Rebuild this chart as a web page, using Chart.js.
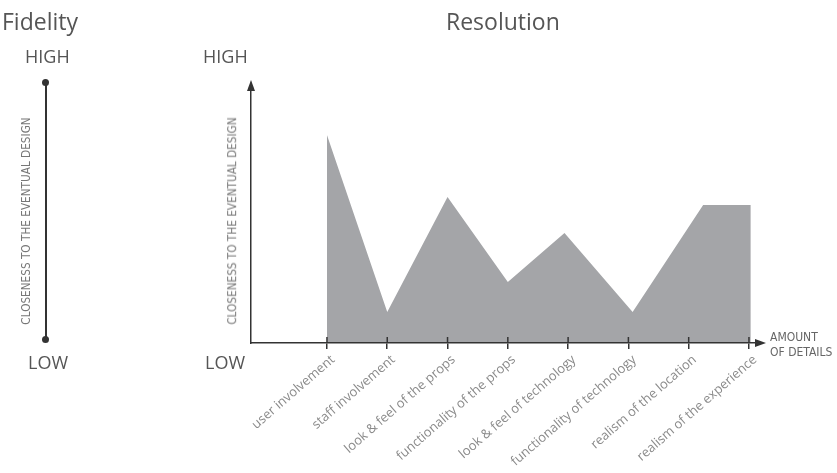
<!DOCTYPE html>
<html>
<head>
<meta charset="utf-8">
<script src="https://cdn.jsdelivr.net/npm/chart.js@4"></script>
<style>
  html, body { margin: 0; padding: 0; background: #fff; }
  #wrap { position: relative; width: 837px; height: 473px; overflow: hidden; }
  #grafico { position: absolute; left: 0; top: 0; }
  .txt { position: absolute; white-space: nowrap; line-height: 1; }
  .titulo { font-family: "Open Sans", sans-serif; font-size: 23px; color: #555; }
  .nivel { font-family: "Open Sans", sans-serif; font-size: 18px; color: #555; }
  .vert { font-family: "DejaVu Sans Condensed", "DejaVu Sans", sans-serif; font-size: 11.7px; color: #777;
          transform: translate(-50%, -50%) rotate(-90deg); }
  .detalhe { font-family: "DejaVu Sans Condensed", "DejaVu Sans", sans-serif; font-size: 12px; color: #666; line-height: 15px; }
  #fidAxis { position: absolute; left: 45px; top: 82px; width: 1.5px; height: 257px; background: #333; }
  .dot { position: absolute; width: 7px; height: 7px; border-radius: 50%; background: #333; }
</style>
</head>
<body>
<div id="wrap">
  <canvas id="grafico" width="837" height="473"></canvas>

  <div class="txt titulo" style="left:2px; top:10px;">Fidelity</div>
  <div class="txt titulo" style="left:446px; top:10px;">Resolution</div>

  <div class="txt nivel" style="left:25px; top:47px;">HIGH</div>
  <div class="txt nivel" style="left:28px; top:353px;">LOW</div>
  <div class="txt nivel" style="left:203px; top:47px;">HIGH</div>
  <div class="txt nivel" style="left:205px; top:353px;">LOW</div>

  <div class="txt vert" style="left:27px; top:221px;">CLOSENESS TO THE EVENTUAL DESIGN</div>
  <div class="txt vert" style="left:233px; top:221px;">CLOSENESS TO THE EVENTUAL DESIGN</div>

  <div class="txt detalhe" style="left:770px; top:330px;">AMOUNT<br>OF DETAILS</div>

  <div id="fidAxis"></div>
  <div class="dot" style="left:42px; top:79px;"></div>
  <div class="dot" style="left:42px; top:336px;"></div>
</div>

<script>
// categorias do eixo x
let categorias = [
  'user involvement',
  'staff involvement',
  'look & feel of the props',
  'functionality of the props',
  'look & feel of technology',
  'functionality of technology',
  'realism of the location',
  'realism of the experience'
]

// posicao de cada vertice (em unidades de categoria) e nivel (0 = LOW, 100 = HIGH)
let posicoes = [0, 1, 2, 3, 3.94, 5.07, 6.24, 7.03]
let niveis = [82.5, 12.3, 57.9, 24.2, 43.7, 12.3, 54.8, 54.8]

let pontos = posicoes.map((x, i) => ({ x: x, y: niveis[i] }))

const corEixo = '#333'

const setas = {
  id: 'setas',
  afterDraw(chart) {
    const { ctx, chartArea } = chart
    const xs = chart.scales.x
    ctx.save()
    ctx.strokeStyle = corEixo
    ctx.fillStyle = corEixo
    ctx.lineWidth = 1.5

    // tracinhos acima do eixo x
    xs.ticks.forEach(t => {
      const px = xs.getPixelForValue(t.value)
      ctx.beginPath()
      ctx.moveTo(px, chartArea.bottom - 6)
      ctx.lineTo(px, chartArea.bottom)
      ctx.stroke()
    })

    // seta do eixo y
    ctx.beginPath()
    ctx.moveTo(chartArea.left, chartArea.top)
    ctx.lineTo(chartArea.left, chartArea.top - 3)
    ctx.stroke()
    ctx.beginPath()
    ctx.moveTo(chartArea.left, chartArea.top - 11)
    ctx.lineTo(chartArea.left - 4, chartArea.top)
    ctx.lineTo(chartArea.left + 4, chartArea.top)
    ctx.closePath()
    ctx.fill()

    // seta do eixo x
    ctx.beginPath()
    ctx.moveTo(chartArea.right + 11, chartArea.bottom)
    ctx.lineTo(chartArea.right, chartArea.bottom - 4)
    ctx.lineTo(chartArea.right, chartArea.bottom + 4)
    ctx.closePath()
    ctx.fill()
    ctx.restore()
  }
}

const ctx = document.getElementById('grafico').getContext('2d')

new Chart(ctx, {
  type: 'line',
  data: {
    datasets: [{
      data: pontos,
      fill: 'origin',
      backgroundColor: '#a4a5a8',
      borderWidth: 0,
      pointRadius: 0,
      tension: 0
    }]
  },
  options: {
    responsive: false,
    animation: false,
    layout: { padding: { top: 91, right: 82, left: 0, bottom: 0 } },
    plugins: {
      legend: { display: false },
      tooltip: { enabled: false }
    },
    scales: {
      x: {
        type: 'linear',
        min: -1.26,
        max: 7.1,
        afterBuildTicks: s => { s.ticks = categorias.map((c, i) => ({ value: i })) },
        afterFit: s => { s.height = 130 },
        ticks: {
          autoSkip: false,
          minRotation: 41,
          maxRotation: 41,
          padding: 3,
          labelOffset: 6,
          color: '#8a8a8a',
          font: { family: 'Open Sans', size: 13 },
          callback: v => categorias[v]
        },
        grid: { display: true, drawOnChartArea: false, tickLength: 6, color: corEixo, lineWidth: 1.5, z: 1 },
        border: { color: corEixo, width: 1.5, z: 1 }
      },
      y: {
        min: 0,
        max: 100,
        afterFit: s => { s.width = 251 },
        ticks: { display: false },
        grid: { display: false },
        border: { color: corEixo, width: 1.5, z: 1 }
      }
    }
  },
  plugins: [setas]
})
</script>
</body>
</html>
